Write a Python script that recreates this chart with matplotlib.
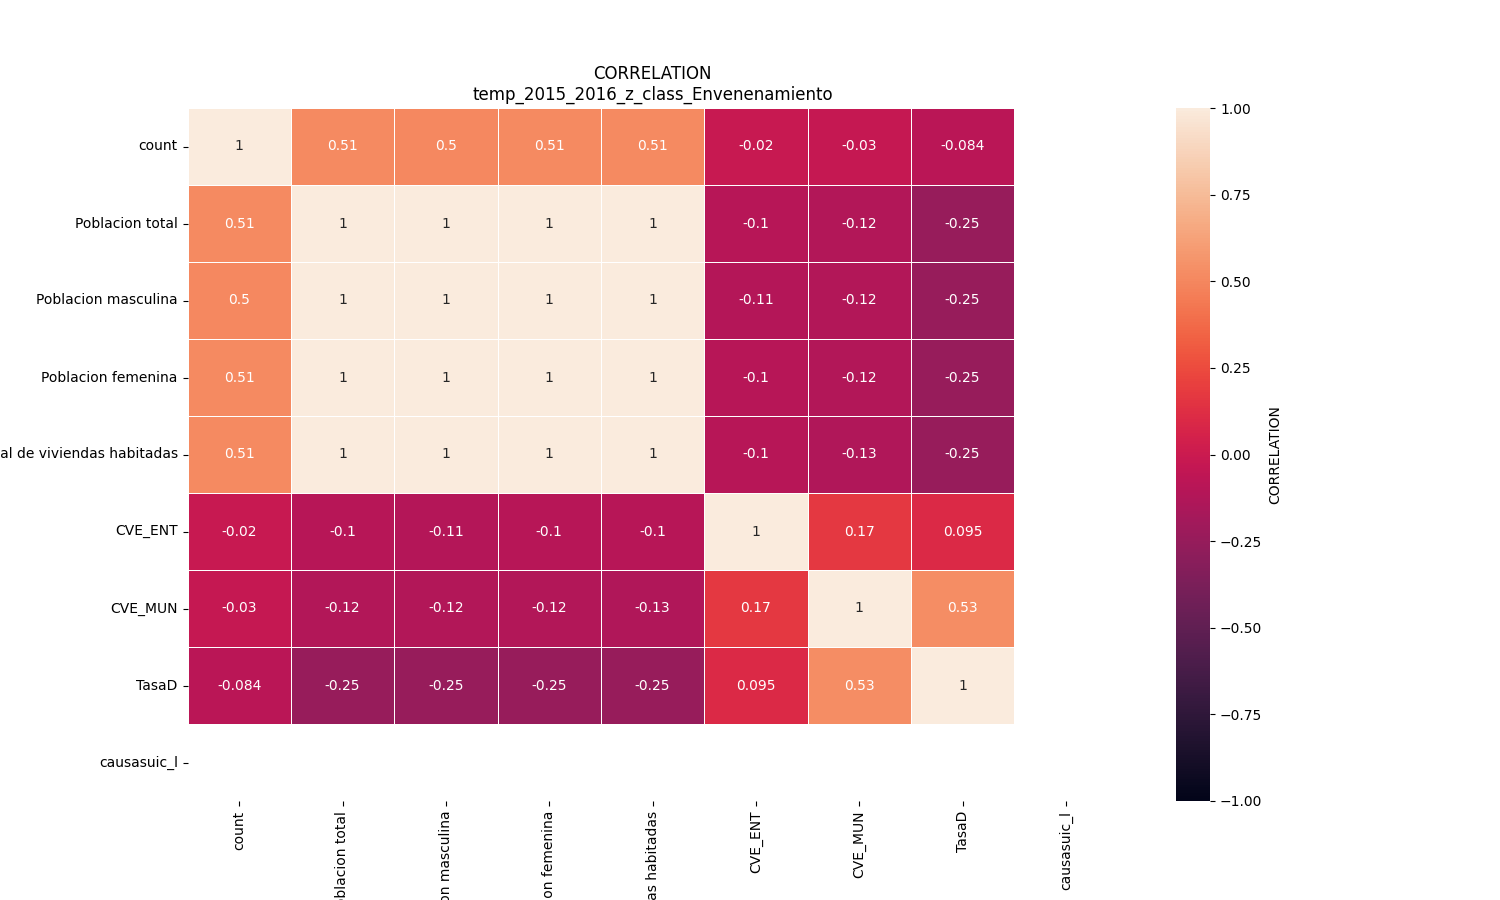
import numpy as np
import pandas as pd
import matplotlib
matplotlib.use("Agg")
import matplotlib.pyplot as plt
import seaborn as sns

labels = ["count", "Poblacion total", "Poblacion masculina", "Poblacion femenina",
          "Total de viviendas habitadas", "CVE_ENT", "CVE_MUN", "TasaD", "causasuic_l"]

nan = np.nan
row_count = [1, 0.51, 0.5, 0.51, 0.51, -0.02, -0.03, -0.084, nan]
row_total = [0.51, 1, 1, 1, 1, -0.1, -0.12, -0.25, nan]
row_masc = [0.5, 1, 1, 1, 1, -0.11, -0.12, -0.25, nan]
row_fem = [0.51, 1, 1, 1, 1, -0.1, -0.12, -0.25, nan]
row_viv = [0.51, 1, 1, 1, 1, -0.1, -0.13, -0.25, nan]
row_ent = [-0.02, -0.1, -0.11, -0.1, -0.1, 1, 0.17, 0.095, nan]
row_mun = [-0.03, -0.12, -0.12, -0.12, -0.13, 0.17, 1, 0.53, nan]
row_tasa = [-0.084, -0.25, -0.25, -0.25, -0.25, 0.095, 0.53, 1, nan]
row_causa = [nan] * 9

corr = pd.DataFrame([row_count, row_total, row_masc, row_fem, row_viv,
                     row_ent, row_mun, row_tasa, row_causa],
                    index=labels, columns=labels)

fig, ax = plt.subplots(figsize=(15, 9))
sns.heatmap(corr, vmin=-1, vmax=1, annot=True, linewidths=0.5,
            cbar_kws={"label": "CORRELATION"}, ax=ax)
ax.set_title("CORRELATION\ntemp_2015_2016_z_class_Envenenamiento")
fig.savefig("out.png", dpi=100)
